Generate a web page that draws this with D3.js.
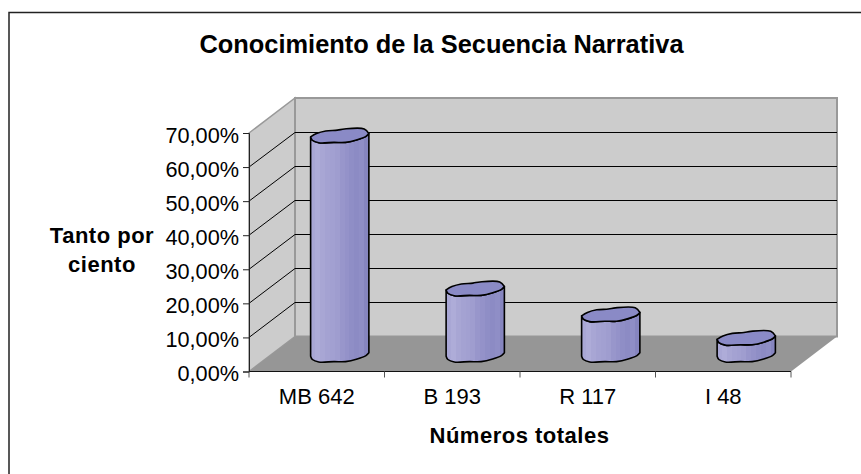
<!DOCTYPE html>
<html>
<head>
<meta charset="utf-8">
<script src="https://cdnjs.cloudflare.com/ajax/libs/d3/7.8.5/d3.min.js"></script>
<style>
  html, body { margin: 0; padding: 0; background: #fff; }
  svg { display: block; font-family: "Liberation Sans", Arial, sans-serif; }
  text { fill: #000; }
</style>
</head>
<body>
<svg id="chart" width="861" height="474"></svg>
<script>
const categories = ['MB 642', 'B 193', 'R 117', 'I 48']
const values = [64.2, 19.3, 11.7, 4.8]
const yTicks = [0, 10, 20, 30, 40, 50, 60, 70]

// uneven edge of the cylinder, u across the bar, v in px around its centre
const backEdge = [[0, 1.2], [0.1, -2.2], [0.26, -4.8], [0.46, -5.6], [0.58, -6.8], [0.92, -6.8], [1, -2.2]]
const frontEdge = [[1, -2.2], [0.95, 0.6], [0.8, 4], [0.6, 6.6], [0.4, 6.6], [0.14, 7], [0.03, 4.5], [0, 1.2]]

// stepped shading of the side of the bars
const facetColors = ['#a9a7d5', '#aeacd8', '#a8a6d4', '#a4a2d2', '#a2a0d1', '#9f9dcf', '#9896cb', '#9492c9', '#8f8ec6', '#8c8bc4', '#8f8ec6', '#8685bf']

const depth = { x: 46, y: -35 }
const margin = { left: 249, right: 70, top: 133, bottom: 102.5 }
const width = 861, height = 474

const svg = d3.select('#chart')

const x = d3.scaleBand().domain(categories).range([margin.left, width - margin.right])
const y = d3.scaleLinear().domain([0, 70]).range([height - margin.bottom, margin.top])
const barWidth = x.bandwidth() * 0.43

const x0 = x.range()[0], x1 = x.range()[1]
const y0 = y(0), yTop = y(70)

const esLocale = d3.formatLocale({ decimal: ',', thousands: '.', grouping: [3], currency: ['', ' €'] })
const pct = v => esLocale.format('.2f')(v) + '%'

// chart frame, only top and left are visible in the picture
svg.append('path').attr('d', `M9,474V12.5H861`).attr('fill', 'none').attr('stroke', '#222').attr('stroke-width', 1.5)

// walls and floor
const walls = svg.append('g')
const wallStroke = '#999999'
walls.append('path')
  .attr('d', `M${x0},${y0}L${x0},${yTop}L${x0 + depth.x},${yTop + depth.y}L${x0 + depth.x},${y0 + depth.y}Z`)
  .attr('fill', '#cccccc').attr('stroke', wallStroke).attr('stroke-width', 1.5)
walls.append('rect')
  .attr('x', x0 + depth.x).attr('y', yTop + depth.y)
  .attr('width', x1 - x0).attr('height', y0 - yTop)
  .attr('fill', '#cccccc').attr('stroke', wallStroke).attr('stroke-width', 2)
walls.append('path')
  .attr('d', `M${x0},${y0}L${x1},${y0}L${x1 + depth.x},${y0 + depth.y}L${x0 + depth.x},${y0 + depth.y}Z`)
  .attr('fill', '#969696')

// gridlines, skip the floor and the top edge of the wall
const snap = v => Math.round(v) + 0.5
const grid = walls.append('g').attr('stroke', '#000').attr('fill', 'none')
grid.selectAll('path')
  .data(yTicks.slice(1, -1))
  .join('path')
  .attr('d', d => `M${x0},${y(d)}L${x0 + depth.x},${snap(y(d) + depth.y)}L${x1 + depth.x},${snap(y(d) + depth.y)}`)

// axes
const yAxis = d3.axisLeft(y).tickValues(yTicks).tickFormat(pct).tickSize(6).tickPadding(4)
svg.append('g')
  .attr('transform', `translate(${x0},0)`)
  .call(yAxis)
  .call(g => g.selectAll('text').attr('font-size', 21.7).attr('font-family', null).attr('dy', '0.42em'))
  .call(g => g.selectAll('line,path').attr('stroke', '#222'))

const xAxis = d3.axisBottom(x).tickSize(0).tickPadding(17)
svg.append('g')
  .attr('transform', `translate(0,${y0})`)
  .call(xAxis)
  .call(g => g.selectAll('text').attr('font-size', 22).attr('font-family', null))
  .call(g => g.select('.domain').attr('stroke', '#111').attr('d', `M${x0},0H${x1}`))

svg.append('g').attr('stroke', '#555')
  .selectAll('line')
  .data(categories.map(c => x(c)).concat([x1]))
  .join('line')
  .attr('x1', d => d).attr('x2', d => d)
  .attr('y1', y0).attr('y2', y0 + 6)

// facet gradient
const grad = svg.append('defs').append('linearGradient').attr('id', 'side')
facetColors.forEach((c, i) => {
  grad.append('stop').attr('offset', i / facetColors.length).attr('stop-color', c)
  grad.append('stop').attr('offset', (i + 1) / facetColors.length).attr('stop-color', c)
})

// bars
const edgeLine = d3.line().curve(d3.curveCatmullRom.alpha(0.5))
const barX = d => x(d.cat) + x.bandwidth() / 2 + depth.x / 2 - barWidth / 2
const barBase = y0 + depth.y / 2 + 1
const barTop = d => y(d.value) + depth.y / 2 + 0.5

const edgePts = (edge, d, cy) => edge.map(p => [barX(d) + p[0] * barWidth, cy + p[1]])

const bars = svg.append('g').selectAll('g')
  .data(categories.map((cat, i) => ({ cat, value: values[i] })))
  .join('g')
  .attr('stroke', '#000').attr('stroke-width', 1.6).attr('stroke-linejoin', 'round')

bars.append('path')
  .attr('fill', 'url(#side)')
  .attr('d', d => {
    const bottom = edgeLine(edgePts(frontEdge, d, barBase))
    const top = edgeLine(edgePts(frontEdge.slice().reverse(), d, barTop(d)))
    return bottom + 'L' + top.slice(1) + 'Z'
  })

bars.append('path')
  .attr('fill', '#8a8ac6')
  .attr('d', d => {
    const back = edgeLine(edgePts(backEdge, d, barTop(d)))
    const front = edgeLine(edgePts(frontEdge, d, barTop(d)))
    return back + 'L' + front.slice(1) + 'Z'
  })

// titles
svg.append('text').attr('x', 441.5).attr('y', 53).attr('text-anchor', 'middle')
  .attr('font-size', 25.4).attr('font-weight', 'bold')
  .text('Conocimiento de la Secuencia Narrativa')

svg.append('text').attr('x', 519.5).attr('y', 443).attr('text-anchor', 'middle')
  .attr('font-size', 22).attr('font-weight', 'bold').attr('letter-spacing', 0.5)
  .text('Números totales')

const yTitle = svg.append('text').attr('text-anchor', 'middle').attr('font-size', 22).attr('font-weight', 'bold').attr('letter-spacing', 0.5)
yTitle.append('tspan').attr('x', 102).attr('y', 243).text('Tanto por')
yTitle.append('tspan').attr('x', 102).attr('y', 272).text('ciento')
</script>
</body>
</html>
